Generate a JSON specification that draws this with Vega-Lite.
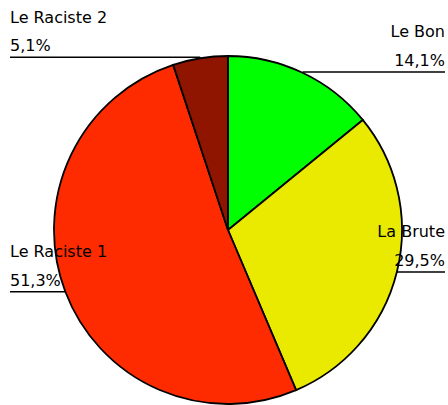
{
  "$schema": "https://vega.github.io/schema/vega-lite/v6.json",
  "width": 440,
  "height": 348,
  "autosize": "none",
  "padding": {"left": 8, "top": 56, "right": 0, "bottom": 1},
  "background": "white",
  "config": {
    "view": {"stroke": null},
    "locale": {"number": {"decimal": ",", "thousands": " ", "grouping": [3], "currency": ["", " €"]}},
    "text": {"font": "DejaVu Sans", "fontSize": 16, "color": "black"}
  },
  "data": {"values": [
    {"Categorie": "Le Bon", "Part": 0.141},
    {"Categorie": "La Brute", "Part": 0.295},
    {"Categorie": "Le Raciste 1", "Part": 0.513},
    {"Categorie": "Le Raciste 2", "Part": 0.051}
  ]},
  "transform": [
    {"window": [{"op": "row_number", "as": "rang"}, {"op": "sum", "field": "Part", "as": "cumul"}]},
    {"calculate": "2*PI*(datum.cumul - datum.Part/2)", "as": "angle"},
    {"calculate": "sin(datum.angle)", "as": "px"},
    {"calculate": "cos(datum.angle)", "as": "py"},
    {"calculate": "datum.px > 0 ? 1.2471 : -1.2529", "as": "bord"}
  ],
  "layer": [
    {
      "mark": {"type": "arc", "radius": 174, "stroke": "black", "strokeWidth": 1.8},
      "encoding": {
        "theta": {"field": "Part", "type": "quantitative", "stack": true},
        "order": {"field": "rang", "type": "quantitative"},
        "color": {
          "field": "Categorie", "type": "nominal",
          "scale": {"domain": ["Le Bon", "La Brute", "Le Raciste 1", "Le Raciste 2"], "range": ["#00ff00", "#eaea00", "#ff2b00", "#901500"]},
          "legend": null
        }
      }
    },
    {
      "mark": {"type": "rule", "color": "black", "strokeWidth": 1.5},
      "encoding": {
        "x": {"field": "px", "type": "quantitative", "scale": {"domain": [-1.26437, 1.26437], "nice": false, "zero": false}, "axis": null},
        "x2": {"field": "bord"},
        "y": {"field": "py", "type": "quantitative", "scale": {"domain": [-0.99429, 0.99429], "nice": false, "zero": false}, "axis": null}
      }
    },
    {
      "transform": [{"filter": "datum.px < 0"}],
      "layer": [
        {
          "mark": {"type": "text", "align": "left", "baseline": "alphabetic", "dy": -34.5},
          "encoding": {
            "x": {"field": "bord", "type": "quantitative", "scale": {"domain": [-1.26437, 1.26437], "nice": false, "zero": false}, "axis": null},
            "y": {"field": "py", "type": "quantitative", "scale": {"domain": [-0.99429, 0.99429], "nice": false, "zero": false}, "axis": null},
            "text": {"field": "Categorie", "type": "nominal"}
          }
        },
        {
          "mark": {"type": "text", "align": "left", "baseline": "alphabetic", "dy": -6},
          "encoding": {
            "x": {"field": "bord", "type": "quantitative", "scale": {"domain": [-1.26437, 1.26437], "nice": false, "zero": false}, "axis": null},
            "y": {"field": "py", "type": "quantitative", "scale": {"domain": [-0.99429, 0.99429], "nice": false, "zero": false}, "axis": null},
            "text": {"field": "Part", "type": "quantitative", "format": ".1%"}
          }
        }
      ]
    },
    {
      "transform": [{"filter": "datum.px > 0"}],
      "layer": [
        {
          "mark": {"type": "text", "align": "right", "baseline": "alphabetic", "dy": -34.5},
          "encoding": {
            "x": {"field": "bord", "type": "quantitative", "scale": {"domain": [-1.26437, 1.26437], "nice": false, "zero": false}, "axis": null},
            "y": {"field": "py", "type": "quantitative", "scale": {"domain": [-0.99429, 0.99429], "nice": false, "zero": false}, "axis": null},
            "text": {"field": "Categorie", "type": "nominal"}
          }
        },
        {
          "mark": {"type": "text", "align": "right", "baseline": "alphabetic", "dy": -6},
          "encoding": {
            "x": {"field": "bord", "type": "quantitative", "scale": {"domain": [-1.26437, 1.26437], "nice": false, "zero": false}, "axis": null},
            "y": {"field": "py", "type": "quantitative", "scale": {"domain": [-0.99429, 0.99429], "nice": false, "zero": false}, "axis": null},
            "text": {"field": "Part", "type": "quantitative", "format": ".1%"}
          }
        }
      ]
    }
  ]
}
